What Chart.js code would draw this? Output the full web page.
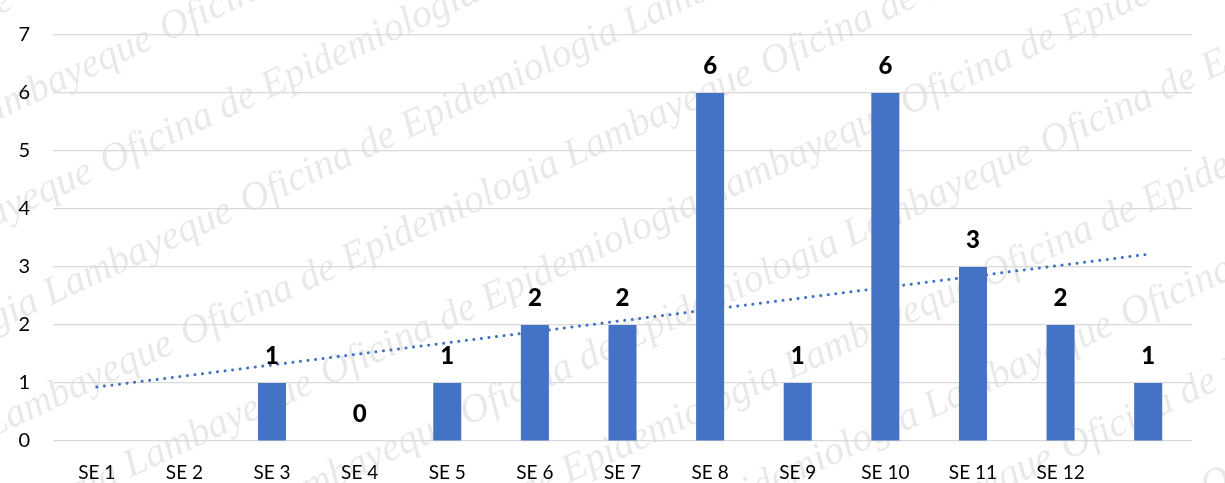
<!DOCTYPE html>
<html>
<head>
<meta charset="utf-8">
<script src="https://cdn.jsdelivr.net/npm/chart.js@4"></script>
<style>
  html, body { margin: 0; padding: 0; background: #fff; }
  #wrap { width: 1225px; height: 483px; }
</style>
</head>
<body>
<div id="wrap"><canvas id="graphCanvas"></canvas></div>
<script>
// semanas epidemiologicas (la ultima columna no tiene etiqueta)
var semanas = ['SE 1', 'SE 2', 'SE 3', 'SE 4', 'SE 5', 'SE 6', 'SE 7', 'SE 8', 'SE 9', 'SE 10', 'SE 11', 'SE 12', ''];
var casos = [null, null, 1, 0, 1, 2, 2, 6, 1, 6, 3, 2, 1];
// linea de tendencia (solo extremos)
var tendencia = [0.93, null, null, null, null, null, null, null, null, null, null, null, 3.22];
var ticksY = [0, 1, 2, 3, 4, 5, 6, 7];

var fuente = "Lato, 'Open Sans', sans-serif";
var marcaAgua = 'Oficina de Epidemiologia Lambayeque';

// fondo blanco + marca de agua
var fondo = {
  id: 'fondo',
  beforeDraw: function (chart) {
    var ctx = chart.ctx;
    ctx.save();
    ctx.fillStyle = '#ffffff';
    ctx.fillRect(0, 0, chart.width, chart.height);
    ctx.translate(chart.width / 2, chart.height / 2);
    ctx.rotate(-25 * Math.PI / 180);
    ctx.font = "italic 40px 'Liberation Serif'";
    ctx.fillStyle = 'rgba(0,0,0,0.09)';
    ctx.textBaseline = 'middle';
    for (var r = -6; r <= 6; r++) {
      for (var c = -3; c <= 3; c++) {
        ctx.fillText(marcaAgua, c * 640 - 320 + (r % 2) * 110, r * 95);
      }
    }
    ctx.restore();
  }
};

// etiquetas de valores encima de las barras
var etiquetas = {
  id: 'etiquetas',
  afterDatasetsDraw: function (chart) {
    var ctx = chart.ctx;
    var meta = chart.getDatasetMeta(0);
    var yScale = chart.scales.y;
    ctx.save();
    ctx.font = "900 24px " + fuente;
    ctx.fillStyle = '#000000';
    ctx.textAlign = 'center';
    ctx.textBaseline = 'middle';
    meta.data.forEach(function (bar, i) {
      var v = casos[i];
      if (v === null) return;
      ctx.fillText(String(v), bar.x, yScale.getPixelForValue(v) - 27);
    });
    ctx.restore();
  }
};

var chartdata = {
  labels: semanas,
  datasets: [
    {
      type: 'bar',
      label: 'Casos',
      backgroundColor: '#4472C4',
      data: casos,
      barPercentage: 0.32,
      categoryPercentage: 1.0,
      order: 2
    },
    {
      type: 'line',
      label: 'Tendencia',
      data: tendencia,
      spanGaps: true,
      borderColor: '#4472C4',
      borderWidth: 3,
      borderDash: [0.1, 7.5],
      borderCapStyle: 'round',
      pointRadius: 0,
      fill: false,
      order: 1
    }
  ]
};

var graphTarget = document.getElementById('graphCanvas');

var barGraph = new Chart(graphTarget, {
  type: 'bar',
  data: chartdata,
  plugins: [fondo, etiquetas],
  options: {
    responsive: true,
    maintainAspectRatio: false,
    animation: false,
    layout: { padding: { top: 26, right: 33, left: 0, bottom: 0 } },
    plugins: {
      legend: { display: false },
      tooltip: { enabled: false },
      title: { display: false }
    },
    scales: {
      x: {
        grid: { display: false },
        border: { display: false },
        ticks: {
          color: '#000000',
          font: { family: fuente, size: 19 },
          padding: 12,
          maxRotation: 0,
          autoSkip: false
        },
        afterFit: function (scale) { scale.height = 42; }
      },
      y: {
        min: 0,
        max: 7,
        afterBuildTicks: function (scale) {
          scale.ticks = ticksY.map(function (v) { return { value: v }; });
        },
        grid: { color: '#d9d9d9', lineWidth: 1.2, drawTicks: false },
        border: { display: false },
        ticks: {
          color: '#000000',
          font: { family: fuente, size: 20 },
          padding: 23
        },
        afterFit: function (scale) { scale.width = 53; }
      }
    }
  }
});
</script>
</body>
</html>
